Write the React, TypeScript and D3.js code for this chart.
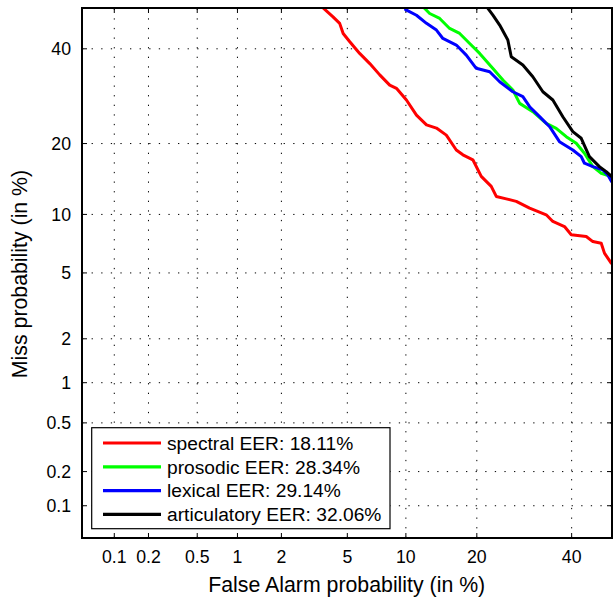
import React from "react";
import * as d3 from "d3";

// ---- data (percent) ----
const FA_TICKS = [0.1, 0.2, 0.5, 1, 2, 5, 10, 20, 40];
const MISS_TICKS = [0.1, 0.2, 0.5, 1, 2, 5, 10, 20, 40];

const SERIES_NAMES = ["spectral", "prosodic", "lexical", "articulatory"];
const SERIES_EER = ["18.11%", "28.34%", "29.14%", "32.06%"];
const SERIES_COLORS = ["#ff0000", "#00ff00", "#0000ff", "#000000"];

const spectralFA = [3.66, 4.15, 4.53, 4.74, 5.16, 5.84, 6.61, 7.44, 8.35, 9.01, 10.06, 11.2, 12.43, 13.74, 15.13, 16.63, 17.67, 19.32, 20.78, 22.6, 23.55, 25.5, 27.53, 30.36, 34.05, 35.57, 38.29, 39.9, 43.53, 45.15, 47.21, 48.01, 49.68];
const spectralMiss = [49.9, 47.8, 46.2, 43.7, 41.7, 38.9, 36.5, 33.9, 31.6, 30.9, 28.4, 25.3, 23.4, 22.8, 21.5, 18.9, 18.1, 17.3, 14.8, 13.4, 12.1, 11.8, 11.5, 10.7, 9.96, 9.25, 8.74, 7.96, 7.8, 7.35, 7.21, 6.4, 5.66];

const prosodicFA = [12.2, 12.84, 14.19, 15.62, 17.16, 18.78, 20.5, 22.91, 24.83, 26.83, 28.24, 31.06, 34.05, 36.35, 38.71, 41.1, 43.09, 45.15, 47.21, 49.68];
const prosodicMiss = [49.9, 48.64, 47.41, 44.95, 43.72, 41.29, 38.9, 35.38, 32.74, 30.54, 27.69, 25.98, 23.7, 22.76, 21.22, 20.05, 18.35, 16.23, 15.25, 14.76];

const lexicalFA = [9.97, 11.2, 12.43, 13.74, 14.64, 16.63, 18.22, 19.9, 22.31, 24.2, 26.83, 28.91, 30.36, 32.56, 34.83, 37.11, 40.28, 42.31, 43.09, 45.15, 47.61, 48.84, 49.8];
const lexicalMiss = [49.6, 48.2, 46.2, 44.55, 42.5, 40.9, 38.5, 35.4, 34.6, 32.35, 30.15, 29.1, 27.0, 25.0, 23.06, 20.33, 18.9, 17.8, 16.76, 16.23, 15.75, 15.0, 14.05];

const articulatoryFA = [21.98, 22.91, 24.2, 25.81, 26.5, 28.91, 31.06, 33.29, 35.57, 37.9, 40.28, 42.31, 44.31, 46.77, 48.44, 49.8];
const articulatoryMiss = [49.9, 48.24, 45.78, 42.11, 38.1, 36.17, 33.47, 30.15, 28.4, 24.98, 22.13, 20.93, 17.81, 16.23, 15.48, 14.76];

const SERIES_FA = [spectralFA, prosodicFA, lexicalFA, articulatoryFA];
const SERIES_MISS = [spectralMiss, prosodicMiss, lexicalMiss, articulatoryMiss];

// inverse standard normal CDF (Acklam)
function probit(p: number): number {
  const a = [-3.969683028665376e1, 2.209460984245205e2, -2.759285104469687e2, 1.38357751867269e2, -3.066479806614716e1, 2.506628277459239];
  const b = [-5.447609879822406e1, 1.615858368580409e2, -1.556989798598866e2, 6.680131188771972e1, -1.328068155288572e1];
  const c = [-7.784894002430293e-3, -3.223964580411365e-1, -2.400758277161838, -2.549732539343734, 4.374664141464968, 2.938163982698783];
  const d = [7.784695709041462e-3, 3.224671290700398e-1, 2.445134137142996, 3.754408661907416];
  const plow = 0.02425, phigh = 1 - plow;
  if (p < plow) {
    const q = Math.sqrt(-2 * Math.log(p));
    return (((((c[0] * q + c[1]) * q + c[2]) * q + c[3]) * q + c[4]) * q + c[5]) / ((((d[0] * q + d[1]) * q + d[2]) * q + d[3]) * q + 1);
  }
  if (p <= phigh) {
    const q = p - 0.5, r = q * q;
    return (((((a[0] * r + a[1]) * r + a[2]) * r + a[3]) * r + a[4]) * r + a[5]) * q / (((((b[0] * r + b[1]) * r + b[2]) * r + b[3]) * r + b[4]) * r + 1);
  }
  const q = Math.sqrt(-2 * Math.log(1 - p));
  return -(((((c[0] * q + c[1]) * q + c[2]) * q + c[3]) * q + c[4]) * q + c[5]) / ((((d[0] * q + d[1]) * q + d[2]) * q + d[3]) * q + 1);
}

const W = 613, H = 599;
const L = 82, R = 612, T = 8, B = 538;
const FONT = "'Liberation Sans', Arial, Helvetica, sans-serif";

export default function App() {
  const x = d3.scaleLinear().domain([probit(0.0005), probit(0.5)]).range([L, R + 0.5]);
  const y = d3.scaleLinear().domain([probit(0.0005), probit(0.5)]).range([B, T]);
  const px = (v: number) => x(probit(v / 100));
  const py = (v: number) => y(probit(v / 100));

  const line = d3
    .line<[number, number]>()
    .x((d) => px(d[0]))
    .y((d) => py(d[1]));

  const tickLen = 5;
  const legX = 91.7, legY = 427.7, legW = 298.3, legH = 101;
  const rowY = (i: number) => 443 + i * 23.8;

  return (
    <svg width={W} height={H} style={{ position: "absolute", left: 0, top: 0, background: "#fff" }} fontFamily={FONT}>
      <defs>
        <clipPath id="plotclip">
          <rect x={L} y={T} width={R - L} height={B - T} />
        </clipPath>
      </defs>
      <rect x={0} y={0} width={W} height={H} fill="#fff" />
      {/* grid */}
      <g stroke="#000" strokeWidth={1} strokeDasharray="1.3 8.3" fill="none">
        {FA_TICKS.map((t) => (
          <line key={"gx" + t} x1={px(t)} x2={px(t)} y1={B} y2={T} />
        ))}
        {MISS_TICKS.map((t) => (
          <line key={"gy" + t} x1={L} x2={R} y1={py(t)} y2={py(t)} />
        ))}
      </g>
      {/* ticks */}
      <g stroke="#000" strokeWidth={1}>
        {FA_TICKS.map((t) => (
          <g key={"tx" + t}>
            <line x1={px(t)} x2={px(t)} y1={B} y2={B - tickLen} />
            <line x1={px(t)} x2={px(t)} y1={T} y2={T + tickLen} />
          </g>
        ))}
        {MISS_TICKS.map((t) => (
          <g key={"ty" + t}>
            <line x1={L} x2={L + tickLen} y1={py(t)} y2={py(t)} />
            <line x1={R} x2={R - tickLen} y1={py(t)} y2={py(t)} />
          </g>
        ))}
      </g>
      {/* curves */}
      <g clipPath="url(#plotclip)" fill="none" strokeWidth={3} strokeLinejoin="round" strokeLinecap="round">
        {SERIES_NAMES.map((n, i) => (
          <path
            key={n}
            d={line(SERIES_FA[i].map((f, j) => [f, SERIES_MISS[i][j]] as [number, number])) || ""}
            stroke={SERIES_COLORS[i]}
          />
        ))}
      </g>
      {/* frame */}
      <rect x={L} y={T} width={R - L} height={B - T} fill="none" stroke="#000" strokeWidth={2} />
      {/* tick labels */}
      <g fontSize={17.7} fill="#000">
        {FA_TICKS.map((t) => (
          <text key={"lx" + t} x={px(t)} y={563} textAnchor="middle">
            {String(t)}
          </text>
        ))}
        {MISS_TICKS.map((t) => (
          <text key={"ly" + t} x={71} y={py(t)} dy="0.35em" textAnchor="end">
            {String(t)}
          </text>
        ))}
      </g>
      {/* axis labels */}
      <text x={346.7} y={591.5} fontSize={21.3} textAnchor="middle" fill="#000">
        False Alarm probability (in %)
      </text>
      <text transform="translate(27,274) rotate(-90)" fontSize={21.3} textAnchor="middle" fill="#000">
        Miss probability (in %)
      </text>
      {/* legend */}
      <rect x={legX} y={legY} width={legW} height={legH} fill="#fff" stroke="#000" strokeWidth={1.2} />
      {SERIES_NAMES.map((n, i) => (
        <g key={"leg" + n}>
          <line x1={103} x2={161} y1={rowY(i)} y2={rowY(i)} stroke={SERIES_COLORS[i]} strokeWidth={3.2} />
          <text x={167} y={rowY(i)} dy="0.35em" fontSize={19.2} fill="#000">
            {`${n} EER: ${SERIES_EER[i]}`}
          </text>
        </g>
      ))}
    </svg>
  );
}
